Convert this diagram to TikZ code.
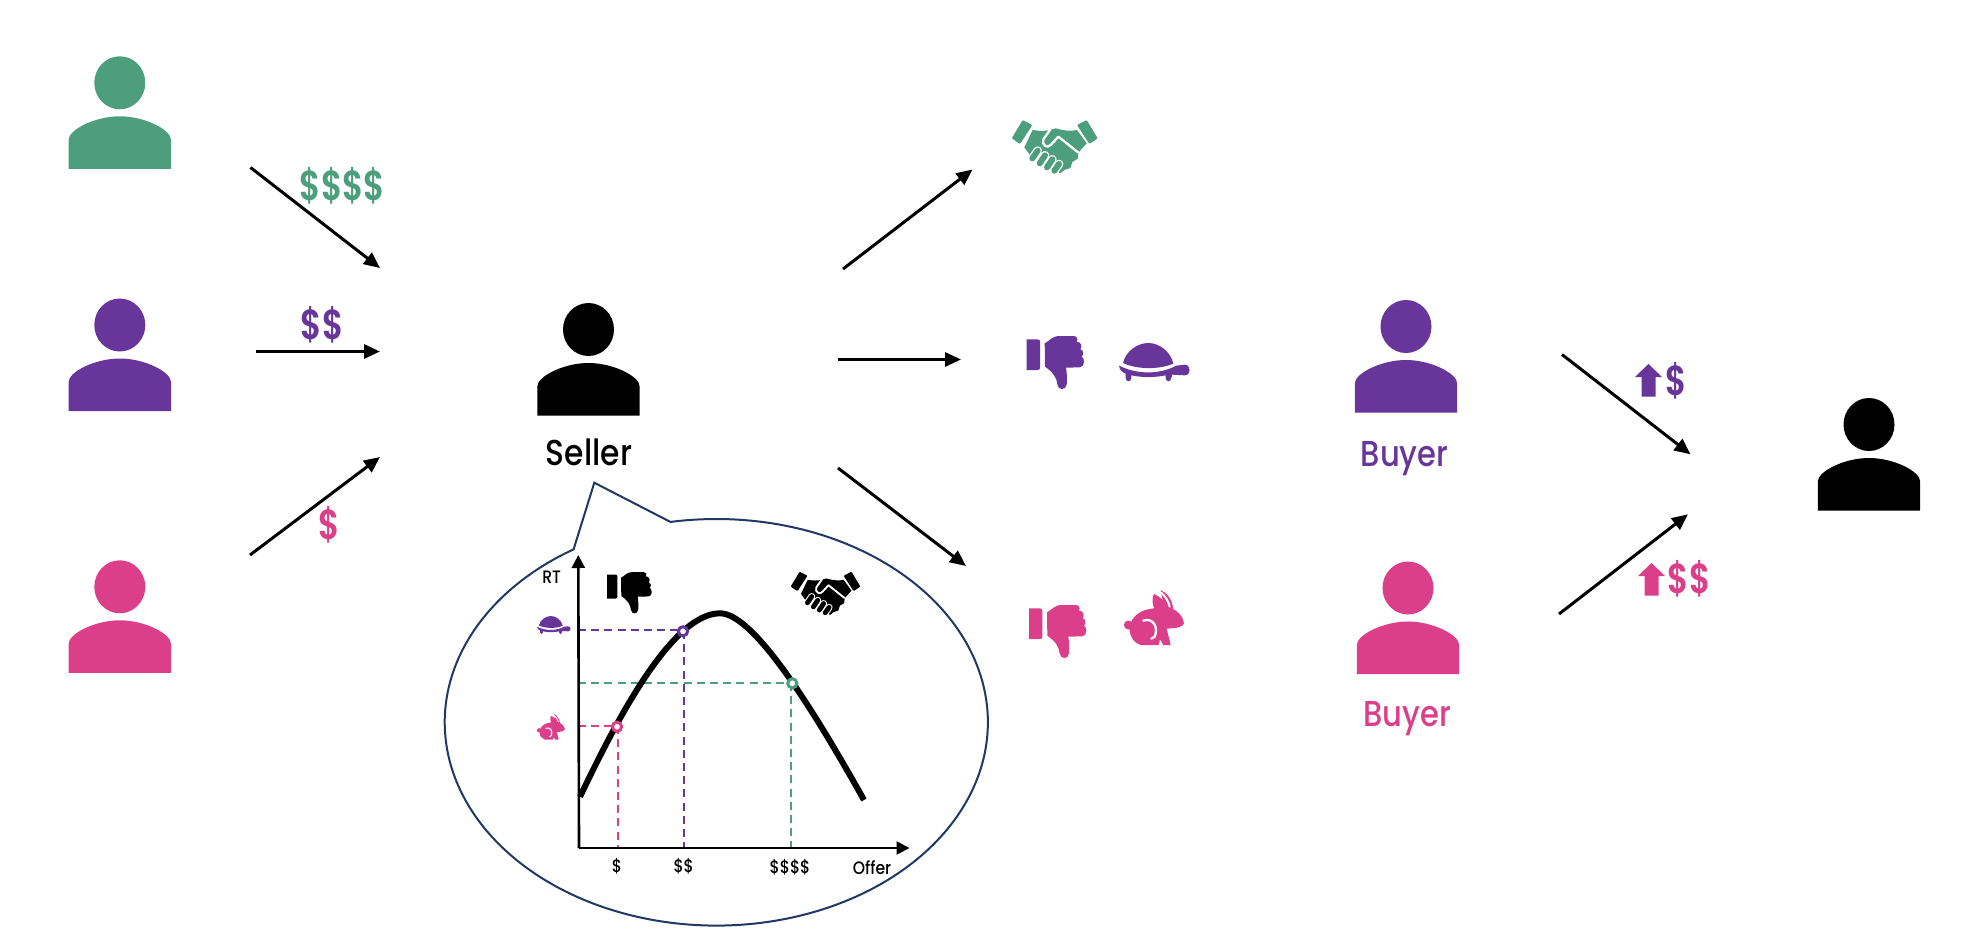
\documentclass[tikz,border=0pt]{standalone}
\usepackage{fontspec}
\setmainfont{Poppins}[FakeStretch=0.88]
\newfontface\medfont{Poppins Medium}[FakeStretch=0.87]
\newfontface\buyerfont{Poppins Medium}[FakeStretch=0.85]
\newfontface\moneyfont{Poppins SemiBold}[FakeStretch=0.78]
\usetikzlibrary{arrows.meta}
\definecolor{cgreen}{HTML}{4C9E7C}
\definecolor{cpurple}{HTML}{68369A}
\definecolor{cpink}{HTML}{DB3F8A}
\definecolor{cnavy}{HTML}{1F3864}
\newcommand{\fsz}[1]{\fontsize{#1}{#1}\selectfont}
\newcommand{\personicon}[3]{%
  \fill[#1] (#2,#3) ellipse[x radius=25.5,y radius=26.5];
  \fill[#1,shift={(#2,#3)}] (-51.2,86) -- (-51.2,57) .. controls (-51.2,47) and (-25,33.5) .. (0,33.5) .. controls (25,33.5) and (51.2,47) .. (51.2,57) -- (51.2,86) -- cycle;}
% icons drawn in 3x local units: args colour, x, y, scale
\newcommand{\thumbicon}[4]{%
  \begin{scope}[shift={(#2,#3)},scale=#4]
  \fill[#1] (0,10) -- (33,10) .. controls (38,10) and (40,13) .. (40,18) -- (40,94) .. controls (40,100) and (38,102) .. (33,102) -- (0,102) -- cycle;
  \fill[#1] (54,22) .. controls (70,14) and (75,0) .. (100,0) -- (140,0) .. controls (150,0) and (155,8) .. (150,17)
   .. controls (162,17) and (168,30) .. (161,40) .. controls (171,42) and (172,56) .. (165,62)
   .. controls (175,66) and (175,92) .. (160,94) -- (118,95) .. controls (120,110) and (122,125) .. (120,145)
   .. controls (118,164) and (94,164) .. (92,145) .. controls (90,125) and (80,110) .. (55,92) -- cycle;
  \end{scope}}
\newcommand{\shakeicon}[4]{%
  \begin{scope}[shift={(#2,#3)},scale=#4]
  \fill[#1,rounded corners=1pt*#4*1.5] (33,0) -- (62,15) -- (25,72) -- (0,55) -- cycle;
  \fill[#1,rounded corners=1pt*#4*1.5] (225,0) -- (196,15) -- (233,72) -- (258,55) -- cycle;
  \fill[#1] (63,30) .. controls (85,34) and (100,33) .. (115,30) -- (132,25) .. controls (160,33) and (180,34) .. (196,30) -- (225,70) -- (200,98) -- (198,116) -- (182,126) -- (176,144) -- (158,150) -- (146,160) -- (60,112) -- (38,82) -- cycle;
  \draw[white,line width=3.5pt*#4,line cap=round,line join=round] (116,28) -- (95,58) .. controls (88,75) and (108,88) .. (118,74) -- (140,50) -- (199,97);
  \draw[white,line width=13pt*#4,line cap=round] (62,115) -- (78,92) (84,130) -- (100,106) (106,142) -- (122,118) (128,152) -- (142,132);
  \draw[#1,line width=9pt*#4,line cap=round] (62,115) -- (78,92) (84,130) -- (100,106) (106,142) -- (122,118) (128,152) -- (142,132);
  \end{scope}}
\newcommand{\turtleicon}[4]{%
  \begin{scope}[shift={(#2,#3)},scale=#4]
  \fill[#1] (12,60) .. controls (20,25) and (55,0) .. (88,0) .. controls (120,0) and (155,25) .. (163,62) .. controls (120,80) and (55,80) .. (12,60) -- cycle;
  \fill[#1] (0,68) .. controls (55,95) and (120,95) .. (172,68) -- (197,65) .. controls (217,65) and (217,97) .. (197,97) -- (160,95)
   -- (157,105) .. controls (155,118) and (141,118) .. (140,105) -- (140,97) .. controls (105,104) and (70,104) .. (37,97)
   -- (37,105) .. controls (35,118) and (21,118) .. (20,105) -- (20,92) .. controls (10,88) and (2,82) .. (0,68) -- cycle;
  \end{scope}}
\newcommand{\rabbiticon}[4]{%
  \begin{scope}[shift={(#2,#3)},scale=#4]
  \fill[#1] (13,105) circle[radius=13.5];
  \fill[#1] (110,0) .. controls (130,8) and (145,30) .. (148,58) -- (120,50) -- cycle;
  \fill[#1] (24,90) .. controls (40,65) and (65,58) .. (90,55) .. controls (84,40) and (84,20) .. (90,12) .. controls (105,18) and (125,35) .. (135,52) .. controls (160,60) and (178,80) .. (180,100) .. controls (176,112) and (160,114) .. (128,116) -- (140,165) -- (118,165) -- (108,148) -- (104,165) -- (50,165) .. controls (30,160) and (18,140) .. (16,118) -- cycle;
  \draw[white,line width=3.5pt*#4,line cap=round] (58,92) .. controls (85,82) and (105,110) .. (92,140) -- (82,146);
  \draw[white,line width=3pt*#4,line cap=round] (112,8) .. controls (125,20) and (134,35) .. (137,50);
  \end{scope}}
\newcommand{\upicon}[3]{%
  \fill[#1,shift={(#2,#3)}] (13.5,0) -- (27,13) -- (20.5,13) -- (20.5,32.5) -- (6.5,32.5) -- (6.5,13) -- (0,13) -- cycle;}
\tikzset{
  flow/.style={-{Triangle[length=8pt,width=7pt]},line width=1.5pt,black},
  axis/.style={-{Triangle[length=6.5pt,width=6.5pt]},line width=1.3pt,black},
  guide/.style={line width=1.2pt,dash pattern=on 4pt off 2.6pt},
  ring/.style={circle,draw=#1,fill=white,line width=1.5pt,minimum size=4.6pt,inner sep=0pt},
  big/.style={font=\fsz{18}\medfont,inner sep=0pt},
  buyerlabel/.style={font=\fsz{18}\buyerfont,inner sep=0pt},
  money/.style={font=\fsz{21}\moneyfont,inner sep=0pt},
  tiny/.style={font=\fsz{9}\medfont,inner sep=0pt,black},
}
\begin{document}
\begin{tikzpicture}[x=0.5pt,y=-0.5pt]
\useasboundingbox (0,0) rectangle (1978,932);
% people
\personicon{cgreen}{119.8}{82.8}
\personicon{cpurple}{119.8}{325}
\personicon{cpink}{119.8}{586.8}
\personicon{black}{588.5}{329.5}
\personicon{cpurple}{1406}{326.5}
\personicon{cpink}{1408}{588}
\personicon{black}{1869}{424.5}
\node[big,black] (seller) at (589,452.5) {Seller};
\node[buyerlabel,text=cpurple] (buyerA) at (1404.5,459) {Buyer};
\node[buyerlabel,text=cpink] (buyerB) at (1407,719) {Buyer};
% arrow ends
\coordinate (a1) at (250.5,167.5);  \coordinate (b1) at (380,268);
\coordinate (a2) at (256,351.5);  \coordinate (b2) at (380,351.5);
\coordinate (a3) at (250,555);  \coordinate (b3) at (380,457);
\coordinate (a4) at (843,269);  \coordinate (b4) at (972.5,169.5);
\coordinate (a5) at (838,359.5);\coordinate (b5) at (961,359.5);
\coordinate (a6) at (838,468);  \coordinate (b6) at (966,566);
\coordinate (a7) at (1562,354.5);\coordinate (b7) at (1690.5,454.3);
\coordinate (a8) at (1559,614); \coordinate (b8) at (1688,514.3);
\foreach \i in {1,...,8} \draw[flow] (a\i) -- (b\i);
% money labels
\node[money,text=cgreen] (m1) at (342.5,185.5) {\$\$\$\$};
\node[money,text=cpurple] (m2) at (322,325) {\$\$};
\node[money,text=cpink] (m3) at (329,525) {\$};
\upicon{cpurple}{1635}{364}
\node[money,text=cpurple] (m4) at (1676,381) {\$};
\upicon{cpink}{1638}{563}
\node[money,text=cpink] (m5) at (1689,579) {\$\$};
% outcome icons
\shakeicon{cgreen}{1011.7}{120}{0.3333}
\thumbicon{cpurple}{1026.7}{336}{0.3333}
\turtleicon{cpurple}{1119}{343}{0.3333}
\thumbicon{cpink}{1029}{605}{0.3333}
\rabbiticon{cpink}{1124}{590}{0.3333}
% thought bubble
\draw[cnavy,line width=1pt,line join=miter]
  plot[domain=260.2:598.3,samples=160,smooth] ({716.3+271.6*cos(\x)},{722.3+203.3*sin(\x)})
  -- (594.3,482.7) -- (670,521.7);
% chart
\coordinate (o) at (579,848);
\coordinate (ytop) at (578.3,555);
\coordinate (xend) at (909.5,848);
\coordinate (pk) at (617,726.7);
\coordinate (pu) at (683,631.3);
\coordinate (gr) at (792.3,683.3);
\draw[guide,cpink] (578,726) -- (617,726);
\draw[guide,cpink] (618,726) -- (618,848);
\draw[guide,cpurple] (578,629.7) -- (683,629.7);
\draw[guide,cpurple] (684,631) -- (684,848);
\draw[guide,cgreen] (578,682.7) -- (792,682.7);
\draw[guide,cgreen] (791,683) -- (791,848);
\draw[line width=3pt,black] (580,796.7) .. controls (612,730) and (670,613.3) .. (720,613.3) .. controls (752,613.3) and (808,700) .. (864,800);
\draw[axis] (o) -- (ytop);
\draw[axis] (o) -- (xend);
\node[ring=cpink] (rpk) at (pk) {};
\node[ring=cpurple] (rpu) at (pu) {};
\node[ring=cgreen] (rgr) at (gr) {};
\node[tiny] (rt) at (551.7,577.7) {RT};
\node[tiny] (d1) at (617,866) {\$};
\node[tiny] (d2) at (683.7,866) {\$\$};
\node[tiny] (d4) at (790,867.5) {\$\$\$\$};
\node[tiny] (off) at (872,867.7) {Offer};
\turtleicon{cpurple}{537}{616}{0.158}
\rabbiticon{cpink}{537}{714}{0.155}
\thumbicon{black}{607}{572}{0.26}
\shakeicon{black}{790.7}{571.7}{0.27}
\end{tikzpicture}
\end{document}
